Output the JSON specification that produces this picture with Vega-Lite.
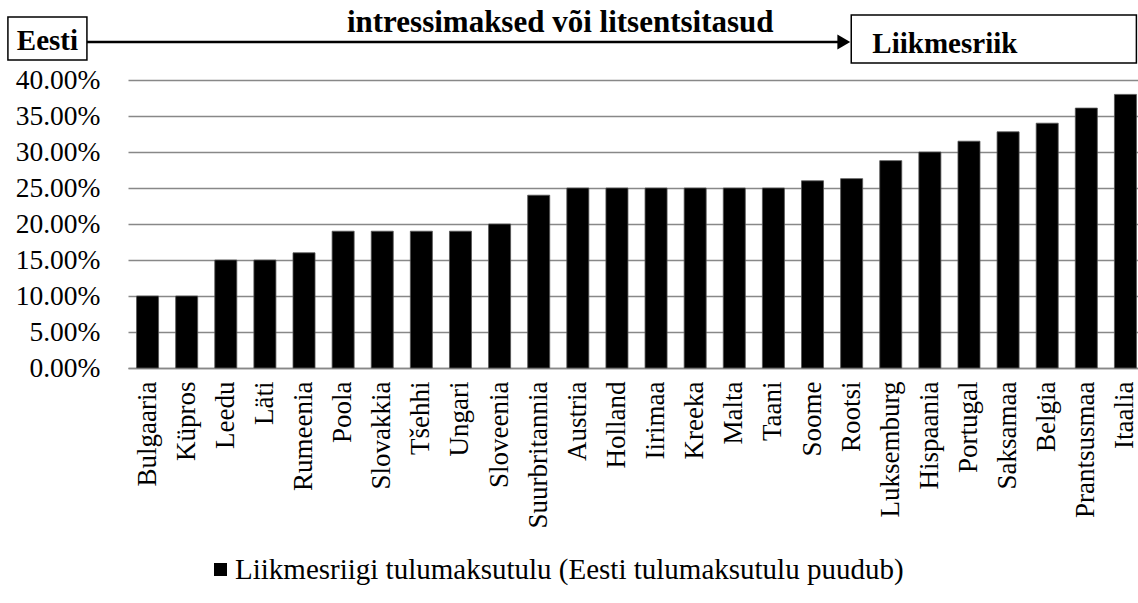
{
  "$schema": "https://vega.github.io/schema/vega-lite/v6.json",
  "width": 1017,
  "height": 288,
  "autosize": {"type": "none"},
  "padding": {"left": 128, "top": 80, "right": 0, "bottom": 235},
  "background": "white",
  "config": {
    "font": "Liberation Serif",
    "view": {"stroke": null},
    "axis": {"labelFont": "Liberation Serif", "labelColor": "black"},
    "legend": {"labelFont": "Liberation Serif", "labelColor": "black"}
  },
  "layer": [
    {
      "data": {
        "values": [
          {"country": "Bulgaaria", "value": 0.10},
          {"country": "Küpros", "value": 0.10},
          {"country": "Leedu", "value": 0.15},
          {"country": "Läti", "value": 0.15},
          {"country": "Rumeenia", "value": 0.16},
          {"country": "Poola", "value": 0.19},
          {"country": "Slovakkia", "value": 0.19},
          {"country": "Tšehhi", "value": 0.19},
          {"country": "Ungari", "value": 0.19},
          {"country": "Sloveenia", "value": 0.20},
          {"country": "Suurbritannia", "value": 0.24},
          {"country": "Austria", "value": 0.25},
          {"country": "Holland", "value": 0.25},
          {"country": "Iirimaa", "value": 0.25},
          {"country": "Kreeka", "value": 0.25},
          {"country": "Malta", "value": 0.25},
          {"country": "Taani", "value": 0.25},
          {"country": "Soome", "value": 0.26},
          {"country": "Rootsi", "value": 0.263},
          {"country": "Luksemburg", "value": 0.288},
          {"country": "Hispaania", "value": 0.30},
          {"country": "Portugal", "value": 0.315},
          {"country": "Saksamaa", "value": 0.328},
          {"country": "Belgia", "value": 0.34},
          {"country": "Prantsusmaa", "value": 0.361},
          {"country": "Itaalia", "value": 0.38}
        ]
      },
      "mark": {"type": "bar", "stroke": "#555555", "strokeWidth": 0.8},
      "encoding": {
        "x": {
          "field": "country",
          "type": "nominal",
          "sort": null,
          "scale": {"paddingInner": 0.437, "paddingOuter": 0.2185},
          "axis": {
            "title": null,
            "labelAngle": -90,
            "labelFontSize": 27,
            "labelPadding": 13,
            "labelLimit": 0,
            "ticks": false,
            "domainColor": "#888888",
            "domainWidth": 1.5
          }
        },
        "y": {
          "field": "value",
          "type": "quantitative",
          "scale": {"domain": [0, 0.4], "nice": false},
          "axis": {
            "title": null,
            "format": ".2%",
            "values": [0, 0.05, 0.1, 0.15, 0.2, 0.25, 0.3, 0.35, 0.4],
            "labelFontSize": 27.5,
            "labelPadding": 28,
            "ticks": false,
            "domain": false,
            "gridColor": "#888888",
            "gridWidth": 1.5
          }
        },
        "color": {
          "datum": "Liikmesriigi tulumaksutulu (Eesti tulumaksutulu puudub)",
          "type": "nominal",
          "scale": {"range": ["black"]},
          "legend": {
            "title": null,
            "orient": "none",
            "legendX": 78,
            "legendY": 475,
            "padding": 0,
            "labelFontSize": 29,
            "labelLimit": 0,
            "labelOffset": 0,
            "symbolType": "square",
            "symbolSize": 170,
            "symbolStrokeWidth": 0
          }
        }
      }
    },
    {
      "data": {"values": [{}]},
      "layer": [
        {
          "mark": {"type": "rect", "fill": "white", "stroke": "black", "strokeWidth": 1.5},
          "encoding": {
            "x": {"datum": -3.07, "type": "quantitative", "scale": {"domain": [0, 26], "nice": false, "zero": false}, "axis": null},
            "x2": {"datum": -1.05},
            "y": {"datum": 0.4875, "type": "quantitative", "scale": {"domain": [0, 0.4], "nice": false}, "axis": null},
            "y2": {"datum": 0.4278}
          }
        },
        {
          "mark": {"type": "text", "font": "Liberation Serif", "fontWeight": "bold", "fontSize": 29, "align": "center", "baseline": "alphabetic", "color": "black"},
          "encoding": {
            "x": {"datum": -2.06, "type": "quantitative", "scale": {"domain": [0, 26], "nice": false, "zero": false}, "axis": null},
            "y": {"datum": 0.4417, "type": "quantitative", "scale": {"domain": [0, 0.4], "nice": false}, "axis": null},
            "text": {"value": "Eesti"}
          }
        },
        {
          "mark": {"type": "rule", "stroke": "black", "strokeWidth": 2.5},
          "encoding": {
            "x": {"datum": -1.05, "type": "quantitative", "scale": {"domain": [0, 26], "nice": false, "zero": false}, "axis": null},
            "x2": {"datum": 18.2},
            "y": {"datum": 0.4528, "type": "quantitative", "scale": {"domain": [0, 0.4], "nice": false}, "axis": null}
          }
        },
        {
          "mark": {"type": "point", "shape": "triangle-right", "filled": true, "color": "black", "size": 220, "opacity": 1},
          "encoding": {
            "x": {"datum": 18.3, "type": "quantitative", "scale": {"domain": [0, 26], "nice": false, "zero": false}, "axis": null},
            "y": {"datum": 0.4528, "type": "quantitative", "scale": {"domain": [0, 0.4], "nice": false}, "axis": null}
          }
        },
        {
          "mark": {"type": "text", "font": "Liberation Serif", "fontWeight": "bold", "fontSize": 31, "align": "center", "baseline": "alphabetic", "color": "black"},
          "encoding": {
            "x": {"datum": 11.05, "type": "quantitative", "scale": {"domain": [0, 26], "nice": false, "zero": false}, "axis": null},
            "y": {"datum": 0.4667, "type": "quantitative", "scale": {"domain": [0, 0.4], "nice": false}, "axis": null},
            "text": {"value": "intressimaksed või litsentsitasud"}
          }
        },
        {
          "mark": {"type": "rect", "fill": "white", "stroke": "black", "strokeWidth": 1.5},
          "encoding": {
            "x": {"datum": 18.49, "type": "quantitative", "scale": {"domain": [0, 26], "nice": false, "zero": false}, "axis": null},
            "x2": {"datum": 25.78},
            "y": {"datum": 0.4903, "type": "quantitative", "scale": {"domain": [0, 0.4], "nice": false}, "axis": null},
            "y2": {"datum": 0.4236}
          }
        },
        {
          "mark": {"type": "text", "font": "Liberation Serif", "fontWeight": "bold", "fontSize": 29, "align": "left", "baseline": "alphabetic", "color": "black"},
          "encoding": {
            "x": {"datum": 19.03, "type": "quantitative", "scale": {"domain": [0, 26], "nice": false, "zero": false}, "axis": null},
            "y": {"datum": 0.4375, "type": "quantitative", "scale": {"domain": [0, 0.4], "nice": false}, "axis": null},
            "text": {"value": "Liikmesriik"}
          }
        }
      ]
    }
  ],
  "resolve": {"scale": {"x": "independent", "y": "independent"}}
}
